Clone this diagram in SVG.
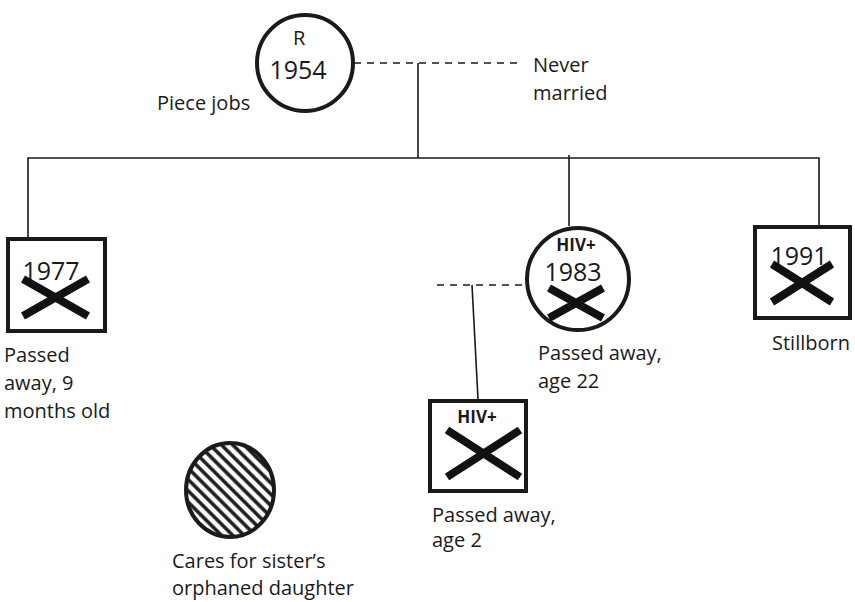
<svg xmlns="http://www.w3.org/2000/svg" width="855" height="602" viewBox="0 0 855 602">
<defs>
<style>
.t{font-family:"Open Sans","Noto Sans",sans-serif;font-size:20px;fill:#1a1a1a}
.y{font-family:"Open Sans","Noto Sans",sans-serif;font-size:25px;fill:#1a1a1a}
.b{font-family:"Open Sans","Noto Sans",sans-serif;font-size:17px;font-weight:bold;fill:#1a1a1a}
.shape{fill:#fff;stroke:#1a1a1a;stroke-width:4}
.x{stroke:#111;stroke-width:8;fill:none}
.ln{stroke:#1a1a1a;stroke-width:1.6;fill:none}
.dash{stroke:#1a1a1a;stroke-width:1.6;fill:none;stroke-dasharray:7,6}
</style>
<pattern id="hatch" width="8" height="8" patternUnits="userSpaceOnUse" patternTransform="rotate(-45)">
<rect width="8" height="8" fill="#fff"/>
<line x1="2" y1="0" x2="2" y2="8" stroke="#1a1a1a" stroke-width="3.5"/>
</pattern>
</defs>
<rect width="855" height="602" fill="#fff"/>
<g id="connectors">
<path class="dash" d="M354 63 H517"/>
<path class="ln" d="M418 63 V158"/>
<path class="ln" d="M28 237 V158 H819 V225"/>
<path class="ln" d="M569 155 V226"/>
<path class="dash" d="M437 285 H526"/>
<path class="ln" d="M472 285 L478 399"/>
</g>
<g id="R">
<circle class="shape" cx="305" cy="63" r="48"/>
<text class="t" x="293" y="45" font-size="17">R</text>
<text class="y" x="298" y="79" text-anchor="middle">1954</text>
<text class="t" x="157" y="110">Piece jobs</text>
</g>
<g id="partner">
<text class="t" x="533" y="72">Never</text>
<text class="t" x="533" y="100">married</text>
</g>
<g id="child1977">
<rect class="shape" x="8" y="239" width="97" height="92"/>
<text class="y" x="51" y="280" text-anchor="middle">1977</text>
<path class="x" d="M23 279 L88 316 M23 316 L88 279"/>
<text class="t" x="4" y="362">Passed</text>
<text class="t" x="4" y="390">away, 9</text>
<text class="t" x="4" y="418">months old</text>
</g>
<g id="child1983">
<circle class="shape" cx="578" cy="279" r="51"/>
<text class="b" x="576" y="251" text-anchor="middle">HIV+</text>
<text class="y" x="573" y="281" text-anchor="middle">1983</text>
<path class="x" d="M549 288 L603 318 M549 318 L603 288"/>
<text class="t" x="538" y="360">Passed away,</text>
<text class="t" x="538" y="388">age 22</text>
</g>
<g id="grandchild">
<rect class="shape" x="430" y="401" width="96" height="90"/>
<text class="b" x="477" y="423" text-anchor="middle">HIV+</text>
<path class="x" d="M447 430 L520 477 M447 477 L520 430"/>
<text class="t" x="432" y="522">Passed away,</text>
<text class="t" x="432" y="547">age 2</text>
</g>
<g id="child1991">
<rect class="shape" x="755" y="227" width="95" height="91"/>
<text class="y" x="799" y="265" text-anchor="middle">1991</text>
<path class="x" d="M772 264 L832 302 M772 302 L832 264"/>
<text class="t" x="772" y="350">Stillborn</text>
</g>
<g id="niece">
<ellipse cx="230" cy="490" rx="44" ry="47" fill="url(#hatch)" stroke="#1a1a1a" stroke-width="4"/>
<text class="t" x="172" y="568">Cares for sister’s</text>
<text class="t" x="172" y="595">orphaned daughter</text>
</g>
</svg>
